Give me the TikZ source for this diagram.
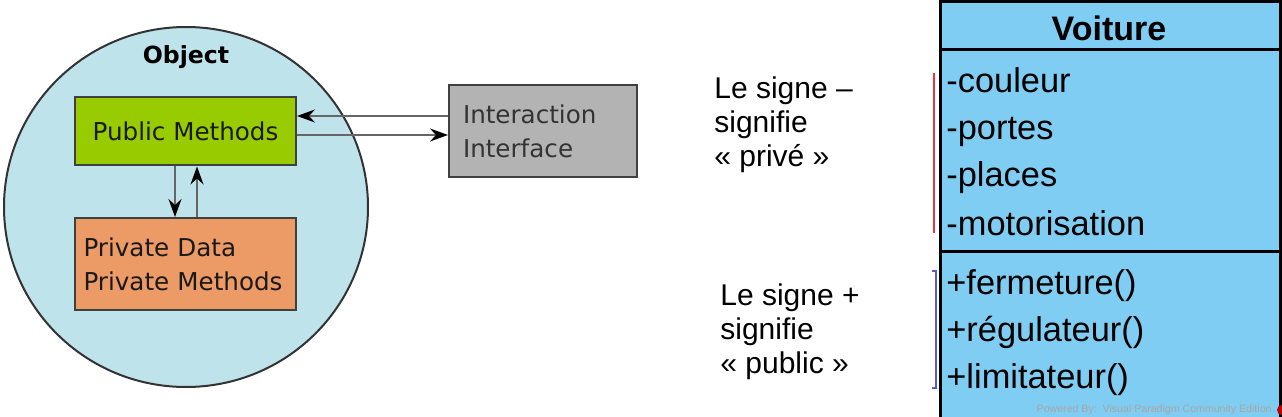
\documentclass[tikz,border=0pt]{standalone}
\usepackage{fontspec}
\setmainfont{Liberation Sans}
\newfontfamily\djv{DejaVu Sans}
\usetikzlibrary{arrows.meta,calc}
\definecolor{objblue}{HTML}{BFE3EA}
\definecolor{pubgreen}{HTML}{99CC00}
\definecolor{privorange}{HTML}{EC9A66}
\definecolor{ifgray}{HTML}{B3B3B3}
\definecolor{umlblue}{HTML}{7FCDF2}
\definecolor{minusred}{HTML}{E8383D}
\definecolor{plusblue}{HTML}{5B5BD0}
\tikzset{
 box/.style={draw=black!75,line width=1pt,inner sep=0pt,font=\djv\fontsize{12.3}{17}\selectfont,text=black!90},
 flow/.style={draw=black!60,line width=0.8pt,-{Stealth[length=9pt,width=6.5pt,inset=3pt,black]}},
 umltxt/.style={anchor=base west,inner sep=0pt,font=\fontsize{17.2}{20}\selectfont},
 note/.style={anchor=base west,align=left,inner sep=0pt,font=\fontsize{15}{17}\selectfont}
}
\begin{document}
\begin{tikzpicture}[x=0.5pt,y=-0.5pt]
 \useasboundingbox (0,0) rectangle (1282,417);
 % object with its two parts
 \draw[fill=objblue,draw=black!80,line width=1pt] (186,207) ellipse (182 and 180);
 \node[font=\djv\bfseries\fontsize{11.8}{14}\selectfont] (obj) at (186,57) {Object};
 \node[box,fill=pubgreen,minimum width=110.5pt,minimum height=34pt] (pub) at (185.5,131.5) {Public Methods};
 \node[box,fill=privorange,minimum width=110.5pt,minimum height=46pt,align=left,text width=102pt] (priv) at (185.5,264) {Private Data\\Private Methods};
 \node[box,fill=ifgray,minimum width=94pt,minimum height=46pt,align=left,text width=80pt,text=black!80] (iface) at (543,131) {Interaction\\Interface};
 \draw[flow] (iface.west |- 0,116) -- (pub.east |- 0,116);
 \draw[flow] (pub.east |- 0,135) -- (iface.west |- 0,135);
 \draw[flow] (pub.south -| 175,0) -- (priv.north -| 175,0);
 \draw[flow] (priv.north -| 197,0) -- (pub.south -| 197,0);
 % class Voiture
 \begin{scope}[fill=umlblue,draw=black,line width=1.5pt]
  \filldraw (940,2) rectangle (1280,50);
  \filldraw (940,50) rectangle (1280,252);
  \filldraw (940,252) rectangle (1280,440);
 \end{scope}
 \node[font=\bfseries\fontsize{17}{20}\selectfont] (cls) at (1109,28) {Voiture};
 \foreach \y/\t [count=\i] in {93/-couleur,140/-portes,187/-places,235/-motorisation}
  \node[umltxt] (att\i) at (946,\y) {\t};
 \foreach \y/\t [count=\i] in {295/+fermeture(),342/+régulateur(),388/+limitateur()}
  \node[umltxt] (op\i) at (946,\y) {\t};
 \node[anchor=east,inner sep=0pt,text=black!35,font=\fontsize{5.3}{6}\selectfont] (vp) at (1272,410) {Powered By:\ \ Visual Paradigm Community Edition};
 \fill[red!75!black] (1282,410) circle (5);
 % signs
 \draw[minusred,line width=1.2pt] (934,73) -- (934,233);
 \draw[plusblue,line width=1.2pt] (932,271) -- (936,271) -- (936,388) -- (932,388);
 \node[note] (minus) at (714,167) {Le signe --\\signifie\\« privé »};
 \node[note] (plus) at (720,373) {Le signe +\\signifie\\« public »};
\end{tikzpicture}
\end{document}
